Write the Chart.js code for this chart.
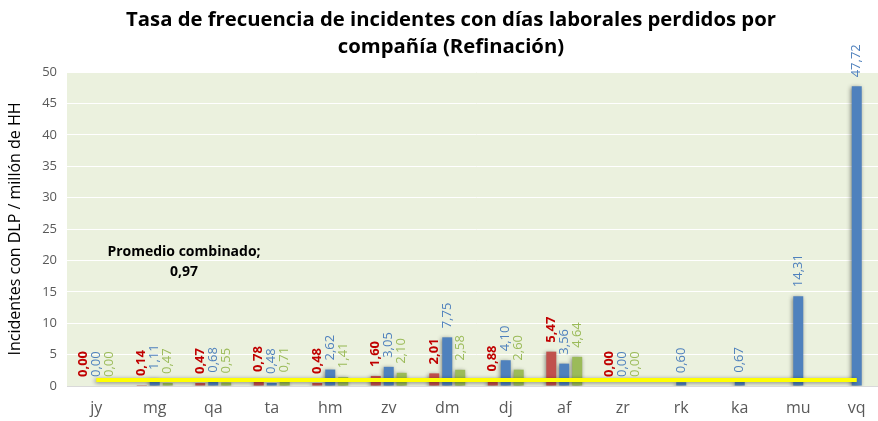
<!DOCTYPE html>
<html>
<head>
<meta charset="utf-8">
<script src="https://cdn.jsdelivr.net/npm/chart.js@4"></script>
<style>
html,body{margin:0;padding:0;background:#fff;overflow:hidden;width:878px;height:421px;}
#wrap{width:902px;height:421px;position:relative;}
</style>
</head>
<body>
<div id="wrap"><canvas id="c" width="902" height="421"></canvas></div>
<script>
const categories = ['jy','mg','qa','ta','hm','zv','dm','dj','af','zr','rk','ka','mu','vq'];
const seriesRed   = [0.00,0.14,0.47,0.78,0.48,1.60,2.01,0.88,5.47,0.00,null,null,null,null];
const seriesBlue  = [0.00,1.11,0.68,0.48,2.62,3.05,7.75,4.10,3.56,0.00,0.60,0.67,14.31,47.72];
const seriesGreen = [0.00,0.47,0.55,0.71,1.41,2.10,2.58,2.60,4.64,0.00,null,null,null,null];
const average = 0.97;
const averageLine = categories.map(() => average);
const yTicks = [0,5,10,15,20,25,30,35,40,45,50];
const titleLines = ['Tasa de frecuencia de incidentes con días laborales perdidos por', 'compañía (Refinación)'];

const FONT = "'Open Sans', 'Liberation Sans', sans-serif";
const fmt = v => v.toFixed(2).replace('.', ',');

const bgPlugin = {
  id: 'bg',
  beforeDraw(chart) {
    const {ctx, chartArea: a} = chart;
    ctx.save();
    ctx.fillStyle = '#EBF1DE';
    ctx.fillRect(a.left, a.top, a.right - a.left, a.bottom - a.top);
    // title
    ctx.font = 'bold 20.3px ' + FONT;
    ctx.fillStyle = '#000';
    ctx.textAlign = 'center';
    ctx.textBaseline = 'middle';
    ctx.fillText(titleLines[0], 451, 20);
    ctx.fillText(titleLines[1], 451, 47);
    ctx.restore();
  }
};

const shadowPlugin = {
  id: 'shadow',
  beforeDatasetsDraw(chart) {
    const ctx = chart.ctx;
    ctx.save();
    ctx.shadowColor = 'rgba(0,0,0,0.45)';
    ctx.shadowBlur = 4;
    ctx.shadowOffsetX = -1;
    ctx.shadowOffsetY = 1;
  },
  afterDatasetsDraw(chart) {
    chart.ctx.restore();
  }
};

const labelPlugin = {
  id: 'labels',
  afterDraw(chart) {
    const ctx = chart.ctx;
    const xs = chart.scales.x, ys = chart.scales.y;
    chart.data.datasets.forEach((ds, di) => {
      if (!ds.labelColor) return;
      const meta = chart.getDatasetMeta(di);
      meta.data.forEach((el, i) => {
        const v = ds.data[i];
        if (v === null || v === undefined) return;
        ctx.save();
        ctx.translate(el.x, el.y - 9);
        ctx.rotate(-Math.PI / 2);
        ctx.font = (ds.labelBold ? 'bold ' : '') + '13px ' + FONT;
        ctx.fillStyle = ds.labelColor;
        ctx.textAlign = 'left';
        ctx.textBaseline = 'middle';
        ctx.fillText(fmt(v), 0, 0);
        ctx.restore();
      });
    });
    // annotation
    ctx.save();
    ctx.font = 'bold 14px ' + FONT;
    ctx.fillStyle = '#000';
    ctx.textAlign = 'center';
    ctx.textBaseline = 'middle';
    const ax = xs.getPixelForValue(1.5);
    ctx.fillText('Promedio combinado;', ax, ys.getPixelForValue(21.4));
    ctx.fillText(fmt(average), ax, ys.getPixelForValue(18.2));
    ctx.restore();
  }
};

new Chart(document.getElementById('c'), {
  type: 'bar',
  data: {
    labels: categories,
    datasets: [
      { type: 'line', data: averageLine, borderColor: '#FFFF00', borderWidth: 4, pointRadius: 0, fill: false, order: 0 },
      { data: seriesRed, backgroundColor: '#C0504D', labelColor: '#C00000', labelBold: true, order: 1 },
      { data: seriesBlue, backgroundColor: '#4F81BD', labelColor: '#4F81BD', order: 1 },
      { data: seriesGreen, backgroundColor: '#9BBB59', labelColor: '#9BBB59', order: 1 }
    ]
  },
  options: {
    responsive: false,
    animation: false,
    events: [],
    datasets: { bar: { categoryPercentage: 0.665, barPercentage: 0.77 } },
    layout: { padding: { right: 16, left: 0, top: 72, bottom: 0 } },
    plugins: {
      legend: { display: false },
      tooltip: { enabled: false },
      title: { display: false }
    },
    scales: {
      x: {
        grid: { display: false },
        border: { display: true, color: '#D9D9D9' },
        ticks: { color: '#595959', font: { family: FONT, size: 16 }, padding: 5 },
        afterFit(s) { s.height = 35; }
      },
      y: {
        min: 0, max: 50,
        afterBuildTicks(s) { s.ticks = yTicks.map(v => ({ value: v })); },
        grid: { color: '#FFFFFF', lineWidth: 1, drawTicks: false },
        border: { display: false },
        ticks: { color: '#595959', font: { family: FONT, size: 13 }, padding: 10 },
        title: {
          display: true,
          text: 'Incidentes con DLP / millón de HH',
          color: '#000',
          font: { family: FONT, size: 16 },
          padding: { top: 6, bottom: 2 }
        },
        afterFit(s) { s.width = 67; }
      }
    }
  },
  plugins: [bgPlugin, shadowPlugin, labelPlugin]
});
</script>
</body>
</html>
